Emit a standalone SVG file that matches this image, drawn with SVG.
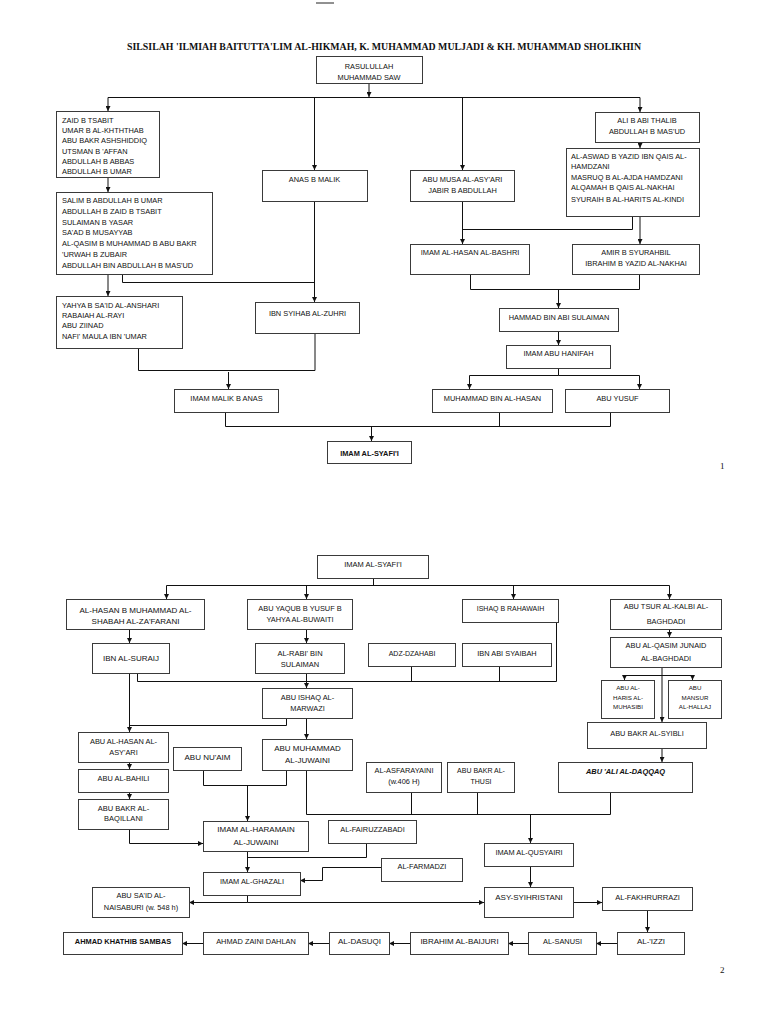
<svg xmlns="http://www.w3.org/2000/svg" width="768" height="1024" viewBox="0 0 768 1024">
<defs>
<style>
.b{fill:#fff;stroke:#3a3a3a;stroke-width:1}
.t{font-family:"Liberation Sans",Arial,sans-serif;font-size:7.4px;fill:#111}
.m{text-anchor:middle}
.c{fill:none;stroke:#111;stroke-width:1}
.a{marker-end:url(#ah)}
.s8{font-size:8px}
.s7{font-size:7px}
.s75{font-size:7.5px}
.s6{font-size:6.2px}
.pn{font-family:"Liberation Serif","Times New Roman",serif;font-size:9px;fill:#111}
</style>
<marker id="ah" viewBox="0 0 6 6" refX="6" refY="3" markerWidth="5" markerHeight="5" orient="auto" markerUnits="userSpaceOnUse"><path d="M0,0 L6,3 L0,6 z" fill="#111"/></marker>
</defs>
<rect width="768" height="1024" fill="#fff"/>
<line x1="316" y1="3" x2="334" y2="3" stroke="#222" stroke-width="1"/>
<text x="384" y="50" text-anchor="middle" textLength="514" lengthAdjust="spacingAndGlyphs" font-family="'Liberation Serif','Times New Roman',serif" font-weight="bold" font-size="10" fill="#111">SILSILAH 'ILMIAH BAITUTTA'LIM AL-HIKMAH, K. MUHAMMAD MULJADI &amp; KH. MUHAMMAD SHOLIKHIN</text>

<g id="connectors">
<path class="c a" d="M369,84 V97"/>
<path class="c" d="M108,97.5 H640"/>
<path class="c a" d="M108,97.5 V111"/>
<path class="c a" d="M314.5,97.5 V170"/>
<path class="c a" d="M462.5,97.5 V170"/>
<path class="c a" d="M640,97.5 V112"/>
<path class="c a" d="M108,177 V192"/>
<path class="c a" d="M108,274 V296"/>
<path class="c" d="M122.5,274 V282.5 H314.5"/>
<path class="c a" d="M314.5,201 V302"/>
<path class="c a" d="M640,142 V148"/>
<path class="c" d="M632.5,216 V229.5 H462.5"/>
<path class="c a" d="M462.5,201 V244"/>
<path class="c a" d="M640,216 V244"/>
<path class="c" d="M470.5,274 V289.5 H639.5 V274"/>
<path class="c a" d="M558.5,289.5 V308"/>
<path class="c a" d="M558.5,331 V345"/>
<path class="c" d="M558.5,368 V375.5 H469.5 M558.5,375.5 H639.5"/>
<path class="c a" d="M469.5,375.5 V389"/>
<path class="c a" d="M639.5,375.5 V389"/>
<path class="c" d="M138.5,348 V370.5 H315 V333"/>
<path class="c a" d="M228.5,372 V389" stroke="#777"/>
<path class="c" d="M225.5,412 V426.5 H610.5 V412 M499.5,412 V426.5"/>
<path class="c a" d="M371.5,426.5 V441"/>

<path class="c" d="M373.5,578 V585.5 M166.5,585.5 H669.5"/>
<path class="c a" d="M166.5,585.5 V599"/>
<path class="c a" d="M306.5,585.5 V599"/>
<path class="c a" d="M513.5,585.5 V599"/>
<path class="c a" d="M669.5,585.5 V599"/>
<path class="c a" d="M129.5,629 V643"/>
<path class="c a" d="M306.5,629 V643"/>
<path class="c a" d="M669.5,629 V637"/>
<path class="c a" d="M129.5,673 V732"/>
<path class="c" d="M137.5,673 V681.5 H556.5 V621 M411.5,666 V681.5 M499.5,666 V681.5"/>
<path class="c a" d="M306.5,673 V688"/>
<path class="c" d="M286.5,718 V725.5 H129.5"/>
<path class="c a" d="M306.5,718 V739"/>
<path class="c a" d="M129.5,762 V769"/>
<path class="c a" d="M129.5,792 V799"/>
<path class="c a" d="M129.5,829 V843.5 H203"/>
<path class="c" d="M203.5,770 V785.5 H286.5 V770"/>
<path class="c a" d="M247.5,785.5 V821"/>
<path class="c" d="M306.5,770 V814.5 H610.5 V792 M411.5,792 V814.5 M477.5,792 V814.5"/>
<path class="c a" d="M530.5,814.5 V843"/>
<path class="c a" d="M662,667 V722"/>
<path class="c" d="M624.5,675.5 H692.5"/>
<path class="c a" d="M624.5,675.5 V680"/>
<path class="c a" d="M692.5,675.5 V680"/>
<path class="c a" d="M662,748 V762"/>
<path class="c a" d="M247.5,851 V872"/>
<path class="c" d="M366.5,843 V857.5 H247.5"/>
<path class="c a" d="M381,867.5 H322.5 V880.5 H300"/>
<path class="c" d="M247.5,895 V902.5"/>
<path class="c a" d="M247.5,902.5 H189"/>
<path class="c a" d="M247.5,902.5 H484"/>
<path class="c a" d="M530.5,866 V887"/>
<path class="c a" d="M573,902.5 H602"/>
<path class="c a" d="M647.5,910 V932"/>
<path class="c a" d="M617,943.5 H596"/>
<path class="c a" d="M528,943.5 H508"/>
<path class="c a" d="M410,943.5 H389"/>
<path class="c a" d="M329,943.5 H308"/>
<path class="c a" d="M203,943.5 H182"/>
</g>

<g id="n_rasulullah"><rect class="b" x="316.5" y="56.5" width="106" height="27"/><text class="t m" x="369" y="69" font-size="9">RASULULLAH</text><text class="t m" x="369" y="80" font-size="9">MUHAMMAD SAW</text></g>
<g id="n_zaid"><rect class="b" x="56.5" y="111.5" width="103" height="66"/>
<text class="t" x="62" y="123">ZAID B TSABIT</text><text class="t" x="62" y="133.2">UMAR B AL-KHTHTHAB</text><text class="t" x="62" y="143.4">ABU BAKR ASHSHIDDIQ</text><text class="t" x="62" y="153.6">UTSMAN B 'AFFAN</text><text class="t" x="62" y="163.8">ABDULLAH B ABBAS</text><text class="t" x="62" y="174">ABDULLAH B UMAR</text></g>
<g id="n_salim"><rect class="b" x="56.5" y="192.5" width="156" height="82"/>
<text class="t" x="62" y="203">SALIM B ABDULLAH B UMAR</text><text class="t" x="62" y="213.8">ABDULLAH B ZAID B TSABIT</text><text class="t" x="62" y="224.6">SULAIMAN B YASAR</text><text class="t" x="62" y="235.4">SA'AD B MUSAYYAB</text><text class="t" x="62" y="246.2">AL-QASIM B MUHAMMAD B ABU BAKR</text><text class="t" x="62" y="257">'URWAH B ZUBAIR</text><text class="t" x="62" y="267.8">ABDULLAH BIN ABDULLAH B MAS'UD</text></g>
<g id="n_yahya"><rect class="b" x="56.5" y="296.5" width="126" height="52"/>
<text class="t" x="62" y="307.5">YAHYA B SA'ID AL-ANSHARI</text><text class="t" x="62" y="317.7">RABAIAH AL-RAYI</text><text class="t" x="62" y="327.9">ABU ZIINAD</text><text class="t" x="62" y="338.6">NAFI' MAULA IBN 'UMAR</text></g>
<g id="n_anas"><rect class="b" x="262.5" y="170.5" width="105" height="31"/><text class="t m" x="314.5" y="181.5">ANAS B MALIK</text></g>
<g id="n_abumusa"><rect class="b" x="410.5" y="170.5" width="104" height="31"/><text class="t m" x="462.5" y="182">ABU MUSA AL-ASY'ARI</text><text class="t m" x="462.5" y="192.8">JABIR B ABDULLAH</text></g>
<g id="n_ali"><rect class="b" x="595.5" y="112.5" width="104" height="30"/><text class="t m" x="647" y="122.5">ALI B ABI THALIB</text><text class="t m" x="647" y="133.5">ABDULLAH B MAS'UD</text></g>
<g id="n_aswad"><rect class="b" x="566.5" y="148.5" width="133" height="68"/>
<text class="t" x="571" y="158.5">AL-ASWAD B YAZID IBN QAIS AL-</text><text class="t" x="571" y="169">HAMDZANI</text><text class="t" x="571" y="179.8">MASRUQ B AL-AJDA HAMDZANI</text><text class="t" x="571" y="190.3">ALQAMAH B QAIS AL-NAKHAI</text><text class="t" x="571" y="201.5">SYURAIH B AL-HARITS AL-KINDI</text></g>
<g id="n_hasanbashri"><rect class="b" x="410.5" y="244.5" width="119" height="30"/><text class="t m" x="470" y="255">IMAM AL-HASAN AL-BASHRI</text></g>
<g id="n_amir"><rect class="b" x="572.5" y="244.5" width="127" height="30"/><text class="t m" x="636" y="255">AMIR B SYURAHBIL</text><text class="t m" x="636" y="265.5">IBRAHIM B YAZID AL-NAKHAI</text></g>
<g id="n_ibnsyihab"><rect class="b" x="255.5" y="302.5" width="104" height="31"/><text class="t m" x="307.5" y="315.5">IBN SYIHAB AL-ZUHRI</text></g>
<g id="n_hammad"><rect class="b" x="499.5" y="308.5" width="119" height="23"/><text class="t m" x="559" y="319.5">HAMMAD BIN ABI SULAIMAN</text></g>
<g id="n_hanifah"><rect class="b" x="506.5" y="345.5" width="104" height="23"/><text class="t m" x="558.5" y="356">IMAM ABU HANIFAH</text></g>
<g id="n_muhammadhasan"><rect class="b" x="432.5" y="389.5" width="120" height="23"/><text class="t m" x="492.5" y="400.5">MUHAMMAD BIN AL-HASAN</text></g>
<g id="n_abuyusuf"><rect class="b" x="565.5" y="389.5" width="104" height="23"/><text class="t m" x="617.5" y="400.5">ABU YUSUF</text></g>
<g id="n_malik"><rect class="b" x="174.5" y="389.5" width="104" height="23"/><text class="t m" x="226.5" y="400.5">IMAM MALIK B ANAS</text></g>
<g id="n_syafii1"><rect class="b" x="327.5" y="441.5" width="84" height="22"/><text class="t m" x="369.5" y="455.5" font-size="9" font-weight="bold">IMAM AL-SYAFI'I</text></g>
<text class="pn" x="720" y="469">1</text>

<g id="n_syafii2"><rect class="b" x="317.5" y="555.5" width="111" height="23"/><text class="t m s75" x="373" y="567">IMAM AL-SYAFI'I</text></g>
<g id="n_hasanshabah"><rect class="b" x="66.5" y="599.5" width="138" height="30"/><text class="t m s8" x="135.5" y="612.5">AL-HASAN B MUHAMMAD AL-</text><text class="t m s8" x="135.5" y="623.8">SHABAH AL-ZA'FARANI</text></g>
<g id="n_abuyaqub"><rect class="b" x="247.5" y="599.5" width="105" height="30"/><text class="t m" x="300" y="611">ABU YAQUB B YUSUF B</text><text class="t m" x="300" y="621.7">YAHYA AL-BUWAITI</text></g>
<g id="n_ishaq"><rect class="b" x="462.5" y="599.5" width="96" height="23"/><text class="t m s7" x="510.5" y="611">ISHAQ B RAHAWAIH</text></g>
<g id="n_abutsur"><rect class="b" x="610.5" y="599.5" width="111" height="30"/><text class="t m" x="666" y="609" font-size="8.5">ABU TSUR AL-KALBI AL-</text><text class="t m" x="666" y="623.5" font-size="8.5">BAGHDADI</text></g>
<g id="n_suraij"><rect class="b" x="92.5" y="643.5" width="77" height="30"/><text class="t m s8" x="131" y="661">IBN AL-SURAIJ</text></g>
<g id="n_rabi"><rect class="b" x="255.5" y="643.5" width="89" height="30"/><text class="t m s75" x="300" y="656">AL-RABI' BIN</text><text class="t m s75" x="300" y="667">SULAIMAN</text></g>
<g id="n_dzahabi"><rect class="b" x="368.5" y="643.5" width="87" height="23"/><text class="t m s7" x="412" y="656">ADZ-DZAHABI</text></g>
<g id="n_ibnabisyaibah"><rect class="b" x="462.5" y="643.5" width="89" height="23"/><text class="t m" x="507" y="656" font-size="7.8">IBN ABI SYAIBAH</text></g>
<g id="n_junaid"><rect class="b" x="610.5" y="637.5" width="111" height="30"/><text class="t m" x="666" y="648" font-size="8.5">ABU AL-QASIM JUNAID</text><text class="t m" x="666" y="661" font-size="8.5">AL-BAGHDADI</text></g>
<g id="n_muhasibi"><rect class="b" x="601.5" y="680.5" width="53" height="38"/><text class="t m s6" x="628" y="690">ABU AL-</text><text class="t m s6" x="628" y="699.5">HARIS AL-</text><text class="t m s6" x="628" y="709">MUHASIBI</text></g>
<g id="n_hallaj"><rect class="b" x="668.5" y="680.5" width="53" height="38"/><text class="t m s6" x="695" y="690">ABU</text><text class="t m s6" x="695" y="699.5">MANSUR</text><text class="t m s6" x="695" y="709">AL-HALLAJ</text></g>
<g id="n_syibli"><rect class="b" x="587.5" y="722.5" width="119" height="26"/><text class="t m" x="647" y="736" font-size="7.8">ABU BAKR AL-SYIBLI</text></g>
<g id="n_daqqaq"><rect class="b" x="558.5" y="762.5" width="134" height="30"/><text class="t m" x="625.5" y="773.5" font-size="7.7" font-style="italic" font-weight="bold">ABU 'ALI AL-DAQQAQ</text></g>
<g id="n_asfarayaini"><rect class="b" x="366.5" y="762.5" width="75" height="30"/><text class="t m" x="404" y="773" font-size="6.5">AL-ASFARAYAINI</text><text class="t m" x="404" y="784" font-size="6.5">(w.406 H)</text></g>
<g id="n_thusi"><rect class="b" x="447.5" y="762.5" width="67" height="30"/><text class="t m s7" x="481" y="773">ABU BAKR AL-</text><text class="t m s7" x="481" y="784">THUSI</text></g>
<g id="n_asyari"><rect class="b" x="78.5" y="732.5" width="90" height="30"/><text class="t m" x="123.5" y="743.7" font-size="7.8">ABU AL-HASAN AL-</text><text class="t m" x="123.5" y="754.5" font-size="7.8">ASY'ARI</text></g>
<g id="n_bahili"><rect class="b" x="78.5" y="769.5" width="90" height="23"/><text class="t m" x="123.5" y="781">ABU AL-BAHILI</text></g>
<g id="n_baqillani"><rect class="b" x="78.5" y="799.5" width="90" height="30"/><text class="t m s75" x="123.5" y="810.5">ABU BAKR AL-</text><text class="t m s75" x="123.5" y="820.5">BAQILLANI</text></g>
<g id="n_marwazi"><rect class="b" x="262.5" y="688.5" width="90" height="30"/><text class="t m" x="307.5" y="699.5" font-size="7.8">ABU ISHAQ AL-</text><text class="t m" x="307.5" y="711" font-size="7.8">MARWAZI</text></g>
<g id="n_abumuhammad"><rect class="b" x="262.5" y="739.5" width="90" height="31"/><text class="t m s8" x="307.5" y="751">ABU MUHAMMAD</text><text class="t m s8" x="307.5" y="763">AL-JUWAINI</text></g>
<g id="n_nuaim"><rect class="b" x="173.5" y="747.5" width="68" height="23"/><text class="t m s8" x="207.5" y="759.5">ABU NU'AIM</text></g>
<g id="n_haramain"><rect class="b" x="203.5" y="821.5" width="105" height="30"/><text class="t m s8" x="256" y="832">IMAM AL-HARAMAIN</text><text class="t m s8" x="256" y="844.5">AL-JUWAINI</text></g>
<g id="n_fairuzzabadi"><rect class="b" x="328.5" y="820.5" width="88" height="23"/><text class="t m" x="372.5" y="831.7" font-size="7.2">AL-FAIRUZZABADI</text></g>
<g id="n_farmadzi"><rect class="b" x="381.5" y="858.5" width="81" height="23"/><text class="t m" x="422" y="868.5" font-size="7.2">AL-FARMADZI</text></g>
<g id="n_qusyairi"><rect class="b" x="484.5" y="843.5" width="89" height="23"/><text class="t m" x="529" y="854.5" font-size="7.9">IMAM AL-QUSYAIRI</text></g>
<g id="n_ghazali"><rect class="b" x="203.5" y="872.5" width="97" height="23"/><text class="t m" x="252" y="884" font-size="8.3">IMAM AL-GHAZALI</text></g>
<g id="n_naisaburi"><rect class="b" x="92.5" y="887.5" width="97" height="30"/><text class="t m" x="141" y="898" font-size="7.8">ABU SA'ID AL-</text><text class="t m" x="141" y="910" font-size="7.8">NAISABURI (w. 548 h)</text></g>
<g id="n_syihristani"><rect class="b" x="484.5" y="887.5" width="89" height="30"/><text class="t m s8" x="529" y="899.5">ASY-SYIHRISTANI</text></g>
<g id="n_fakhrurrazi"><rect class="b" x="602.5" y="887.5" width="90" height="23"/><text class="t m s75" x="647.5" y="899.5">AL-FAKHRURRAZI</text></g>
<g id="n_izzi"><rect class="b" x="617.5" y="932.5" width="67" height="22"/><text class="t m s8" x="651" y="943.5">AL-'IZZI</text></g>
<g id="n_sanusi"><rect class="b" x="528.5" y="932.5" width="68" height="22"/><text class="t m" x="562.5" y="943.5" font-size="7.7">AL-SANUSI</text></g>
<g id="n_baijuri"><rect class="b" x="410.5" y="932.5" width="98" height="22"/><text class="t m s8" x="459.5" y="943.5">IBRAHIM AL-BAIJURI</text></g>
<g id="n_dasuqi"><rect class="b" x="329.5" y="932.5" width="60" height="22"/><text class="t m s8" x="359.5" y="943.5">AL-DASUQI</text></g>
<g id="n_zaini"><rect class="b" x="203.5" y="932.5" width="105" height="22"/><text class="t m" x="256" y="943.5" font-size="8.2">AHMAD ZAINI DAHLAN</text></g>
<g id="n_khathib"><rect class="b" x="63.5" y="932.5" width="119" height="22"/><text class="t m" x="123" y="943.5" font-size="7.7" font-weight="bold">AHMAD KHATHIB SAMBAS</text></g>
<text class="pn" x="720" y="973">2</text>
</svg>
